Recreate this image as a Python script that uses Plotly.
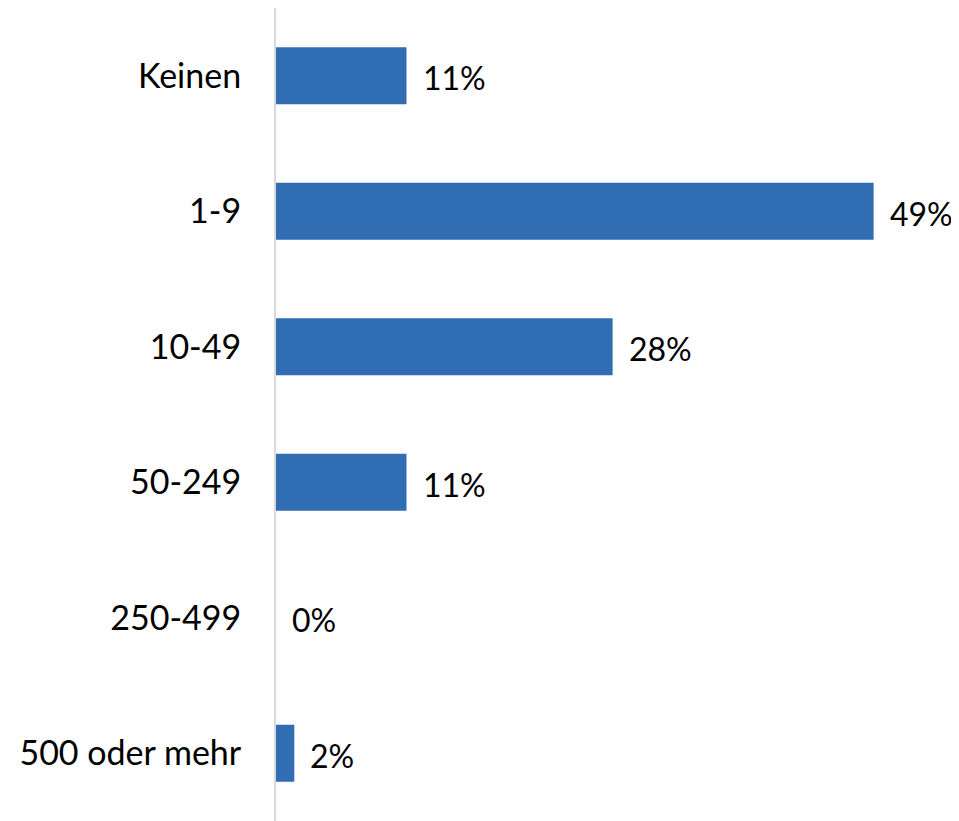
import plotly.graph_objects as go

categories = ["Keinen", "1-9", "10-49", "50-249", "250-499", "500 oder mehr"]
values = [10.7, 49.0, 27.6, 10.7, 0.0, 1.5]
labels = ["11%", "49%", "28%", "11%", "0%", "2%"]

FONT = "Lato"
FS = 34
fig = go.Figure()
fig.add_trace(go.Bar(
    y=categories, x=values, orientation="h",
    marker=dict(color="#306DB3", line=dict(width=0)),
    width=0.42, hoverinfo="skip",
))

for c, v, t in zip(categories, values, labels):
    fig.add_annotation(x=v, y=c, text=t, showarrow=False, xanchor="left",
                       xshift=14, yshift=-2,
                       font=dict(family=FONT, size=32, color="#000000"))

fig.update_layout(
    width=951, height=813,
    margin=dict(l=268, r=0, t=0, b=0),
    paper_bgcolor="white", plot_bgcolor="white",
    showlegend=False,
    xaxis=dict(range=[0, 56], showgrid=False, zeroline=False, showticklabels=False,
               showline=False, automargin=False),
    yaxis=dict(categoryorder="array", categoryarray=categories, autorange="reversed",
               showgrid=False, zeroline=False, showline=True, linecolor="#D9D9D9",
               linewidth=2, ticks="", ticklabelstandoff=26, automargin=False,
               tickfont=dict(family=FONT, size=FS, color="#000000")),
)

fig.write_html("out.html")
